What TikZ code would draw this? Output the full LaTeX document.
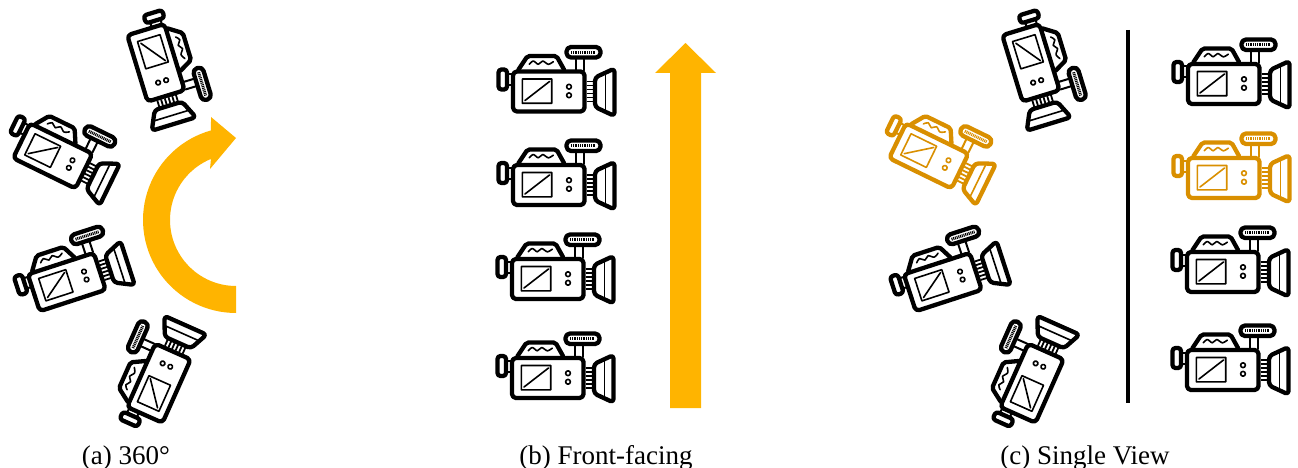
\documentclass[tikz,border=0pt]{standalone}
\usepackage{fontspec}
\setmainfont{Liberation Serif}
\definecolor{arrowgold}{HTML}{FFB400}
\definecolor{camgold}{HTML}{D98F00}
\tikzset{
  camthick/.style={line width=4.3pt,line join=round,line cap=round},
  camthin/.style={line width=1.6pt,line cap=round,line join=round},
  camhatch/.style={line width=3pt,dash pattern=on 1pt off 0.8pt},
  tilted/.style={scale=0.97},
  bigarrow/.style={fill=arrowgold,draw=none},
  caption/.style={font=\fontsize{27}{30}\selectfont,text=black,inner sep=0pt},
  cam/.pic={
    % knob and neck
    \draw[camthick,rounded corners=3pt] (-50.5,-22) rectangle (-42,-2);
    \draw[camthin,line width=2pt] (-41,-17.5) -- (-36,-17.5) (-41,-6.5) -- (-36,-6.5);
    % hood
    \draw[camthick,rounded corners=2pt] (-30.5,-22) -- (-21.5,-35.5) -- (7.5,-35.5) -- (15,-22);
    \draw[camthin] plot[smooth] coordinates {(-19.7,-27.2) (-15.7,-30.5) (-10.7,-27.2) (-6.3,-30.5) (-0.7,-27.2) (4.3,-29.8)};
    % viewfinder handle
    \draw[camthick,rounded corners=4.5pt] (17.5,-44.5) rectangle (51.5,-34);
    \draw[camhatch] (22,-39.2) -- (47,-39.2);
    \draw[camthin,line width=2pt] (27,-32) -- (27,-21) (35,-32) -- (35,-21);
    % body
    \draw[camthick,rounded corners=4pt] (-36,-20) rectangle (35.5,20);
    % screen
    \draw[camthin] (-26.7,-12.5) rectangle (2.7,11.8) (-24,9) -- (0.5,-10);
    % buttons
    \draw[camthin] (20,-4.8) circle[radius=2.4pt] (20,3.8) circle[radius=2.4pt];
    % focus rings
    \draw[camthin,line width=1.8pt,line cap=butt] (37.5,-10) -- (45,-10) (37.5,-6) -- (45,-6) (37.5,-2) -- (45,-2) (37.5,2) -- (45,2) (37.5,6) -- (45,6) (37.5,10) -- (45,10);
    % lens
    \draw[camthick,rounded corners=3.5pt] (46,-14) -- (65.5,-23) -- (65.5,24.5) -- (46,15.5) -- cycle;
    \draw[camthin] (56.5,-17) -- (56.5,19.5);
  }
}
\begin{document}
\begin{tikzpicture}[x=1pt,y=-1pt]
\useasboundingbox (0,0) rectangle (1298,468);
% panel a
\pic (a1) [rotate=-73,tilted] at (156,63) {cam};
\pic (a2) [rotate=-26,tilted] at (53,156) {cam};
\pic (a3) [rotate=18,tilted] at (67,282) {cam};
\pic (a4) [rotate=66,tilted] at (159,383) {cam};
\fill[bigarrow] (236,312) -- plot[domain=90:254.4,samples=50] ({236+93*cos(\x)},{220+93*sin(\x)})
  -- (211,117) -- (236,138) -- (210,169)
  -- plot[domain=247.7:90,samples=50] ({236+66*cos(\x)},{220+66*sin(\x)}) -- cycle;
% panel b
\pic (b1) at (549,91.5) {cam};
\pic (b2) at (549,185) {cam};
\pic (b3) at (548,279) {cam};
\pic (b4) at (548,378) {cam};
\fill[bigarrow] (670,408) -- (670,73) -- (655,73) -- (685.5,43) -- (716,73) -- (701,73) -- (701,408) -- cycle;
% panel c
\pic (c1) [rotate=-73,tilted] at (1031,63) {cam};
\pic (c2) [rotate=-26,tilted,color=camgold] at (929,156) {cam};
\pic (c3) [rotate=18,tilted] at (943,282) {cam};
\pic (c4) [rotate=66,tilted] at (1032,383) {cam};
\draw[line width=3.4pt] (1128,30) -- (1128,403);
\pic (c5) at (1224,84) {cam};
\pic (c6) [color=camgold] at (1224,178) {cam};
\pic (c7) at (1223,272) {cam};
\pic (c8) at (1223,370) {cam};
% captions
\node[caption] (capa) at (126,458) {(a) 360°};
\node[caption] (capb) at (606,458) {(b) Front-facing};
\node[caption] (capc) at (1085,458) {(c) Single View};
\end{tikzpicture}
\end{document}
